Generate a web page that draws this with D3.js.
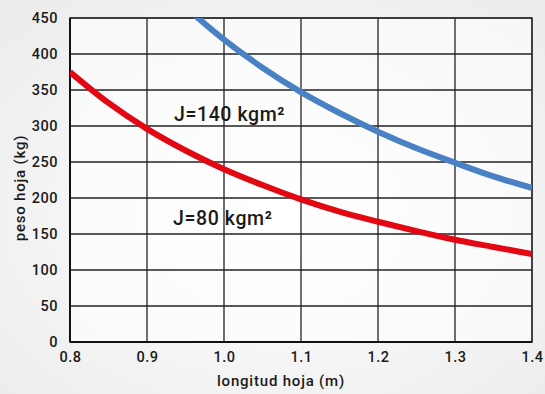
<!DOCTYPE html>
<html><head><meta charset="utf-8">
<script src="https://cdn.jsdelivr.net/npm/d3@7"></script>
<style>body{margin:0;padding:0;overflow:hidden;}svg{display:block;}</style>
</head><body>
<script>
const xTicks = [0.8, 0.9, 1.0, 1.1, 1.2, 1.3, 1.4];
const xTickLabels = ["0.8", "0.9", "1.0", "1.1", "1.2", "1.3", "1.4"];
const yTicks = [0, 50, 100, 150, 200, 250, 300, 350, 400, 450];
const lengthJ80 = [0.80, 0.85, 0.90, 0.95, 1.00, 1.05, 1.10, 1.15, 1.20, 1.25, 1.30, 1.35, 1.40];
const weightJ80 = [375, 332, 296, 266, 240, 218, 198, 181, 167, 154, 142, 132, 122];
const lengthJ140 = [0.95, 1.00, 1.05, 1.10, 1.15, 1.20, 1.25, 1.30, 1.35, 1.40];
const weightJ140 = [465, 420, 381, 347, 318, 292, 269, 249, 230, 214];
const labelJ140 = "J=140 kgm²";
const labelJ80 = "J=80 kgm²";

const W = 545, H = 394;
const m = {left: 70, right: 13, top: 18, bottom: 52};
const svg = d3.select("body").append("svg").attr("width", W).attr("height", H);
const defs = svg.append("defs");
const rg = defs.append("radialGradient").attr("id", "bg").attr("cx", "50%").attr("cy", "55%").attr("r", "70%");
rg.append("stop").attr("offset", "0%").attr("stop-color", "#ffffff");
rg.append("stop").attr("offset", "100%").attr("stop-color", "#ececec");
svg.append("rect").attr("width", W).attr("height", H).attr("fill", "url(#bg)");

const x = d3.scaleLinear().domain([0.8, 1.4]).range([m.left, W - m.right]);
const y = d3.scaleLinear().domain([0, 450]).range([H - m.bottom, m.top]);

defs.append("clipPath").attr("id", "clip").append("rect")
  .attr("x", x(0.8)).attr("y", y(450)).attr("width", x(1.4) - x(0.8)).attr("height", y(0) - y(450));

svg.append("rect").attr("x", x(0.8)).attr("y", y(450)).attr("width", x(1.4) - x(0.8)).attr("height", y(0) - y(450)).attr("fill", "#fff").attr("fill-opacity", 0.6);

const font = "Roboto, 'Noto Sans', sans-serif";

// grid
const g = svg.append("g");
g.selectAll("line.h").data(yTicks).enter().append("line")
  .attr("x1", x(0.8)).attr("x2", x(1.4)).attr("y1", d => y(d)).attr("y2", d => y(d))
  .attr("stroke", "#222").attr("stroke-width", 1.3);
g.selectAll("line.v").data(xTicks).enter().append("line")
  .attr("x1", d => x(d)).attr("x2", d => x(d)).attr("y1", y(0)).attr("y2", y(450))
  .attr("stroke", "#222").attr("stroke-width", 1.3);
// frame
svg.append("rect").attr("x", x(0.8)).attr("y", y(450)).attr("width", x(1.4) - x(0.8)).attr("height", y(0) - y(450))
  .attr("fill", "none").attr("stroke", "#333").attr("stroke-width", 1.5);
svg.append("line").attr("x1", x(0.8)).attr("x2", x(0.8)).attr("y1", y(0)).attr("y2", y(450)).attr("stroke", "#111").attr("stroke-width", 2);
svg.append("line").attr("x1", x(0.8)).attr("x2", x(1.4)).attr("y1", y(0)).attr("y2", y(0)).attr("stroke", "#111").attr("stroke-width", 2);

// axes
const yAxis = svg.append("g").attr("transform", `translate(${x(0.8)},0)`)
  .call(d3.axisLeft(y).tickValues(yTicks).tickSize(0).tickPadding(12));
yAxis.select(".domain").remove();
yAxis.selectAll("text").attr("font-family", font).attr("font-size", 14.5).attr("font-weight", 500)
  .attr("letter-spacing", 0.5).attr("fill", "#1a1a1a");

const xAxis = svg.append("g").attr("transform", `translate(0,${y(0)})`)
  .call(d3.axisBottom(x).tickValues(xTicks).tickFormat((d, i) => xTickLabels[i]).tickSize(0).tickPadding(10));
xAxis.select(".domain").remove();
xAxis.selectAll("text").attr("font-family", font).attr("font-size", 14.5).attr("font-weight", 500)
  .attr("letter-spacing", 0.5).attr("fill", "#1a1a1a");

// curves
const line = d3.line().x(d => x(d[0])).y(d => y(d[1])).curve(d3.curveMonotoneX);
const plot = svg.append("g").attr("clip-path", "url(#clip)");
plot.append("path").datum(lengthJ140.map((l, i) => [l, weightJ140[i]]))
  .attr("d", line).attr("fill", "none").attr("stroke", "#4a80c4").attr("stroke-width", 6);
plot.append("path").datum(lengthJ80.map((l, i) => [l, weightJ80[i]]))
  .attr("d", line).attr("fill", "none").attr("stroke", "#e30613").attr("stroke-width", 6);

// annotations
svg.append("text").attr("x", 174).attr("y", 121).text(labelJ140)
  .attr("font-family", font).attr("font-size", 19.5).attr("font-weight", 500).attr("letter-spacing", 0.6).attr("fill", "#1a1a1a");
svg.append("text").attr("x", 173).attr("y", 225).text(labelJ80)
  .attr("font-family", font).attr("font-size", 19.5).attr("font-weight", 500).attr("letter-spacing", 0.6).attr("fill", "#1a1a1a");

// axis titles
svg.append("text").attr("x", 281).attr("y", 386).attr("text-anchor", "middle").text("longitud hoja (m)")
  .attr("font-family", font).attr("font-size", 15).attr("font-weight", 500).attr("letter-spacing", 0.8).attr("fill", "#1a1a1a");
svg.append("text").attr("transform", "translate(25,188) rotate(-90)").attr("text-anchor", "middle").text("peso hoja (kg)")
  .attr("font-family", font).attr("font-size", 15).attr("font-weight", 500).attr("letter-spacing", 0.8).attr("fill", "#1a1a1a");
</script>
</body></html>
